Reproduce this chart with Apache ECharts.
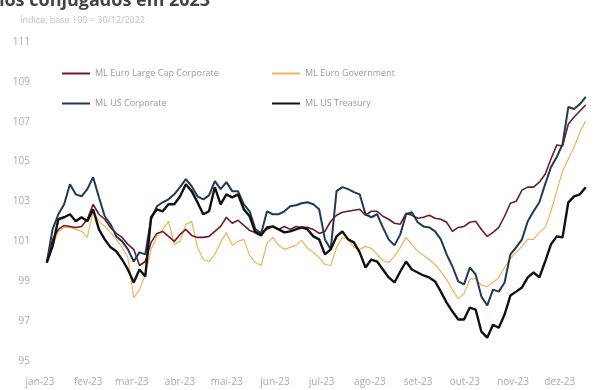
<!DOCTYPE html>
<html>
<head>
<meta charset="utf-8">
<script src="https://cdn.jsdelivr.net/npm/echarts@6/dist/echarts.min.js"></script>
<style>html,body{margin:0;padding:0;background:#fff}#c{width:608px;height:390px}</style>
</head>
<body>
<div id="c"></div>
<script>
// Sampling of the daily series (day of year, from 1 Jan 2023)
const FIRST_DAY = 4.35;
const DAY_STEP = 3.724;

const monthLabels = ['jan-23','fev-23','mar-23','abr-23','mai-23','jun-23','jul-23','ago-23','set-23','out-23','nov-23','dez-23'];
const monthStartDays = [0,31,59,90,120,151,181,212,243,273,304,334];
const yTicks = [95,97,99,101,103,105,107,109,111];

const seriesNames = ['ML Euro Large Cap Corporate','ML Euro Government','ML US Corporate','ML US Treasury'];

const euroCorp = [
 99.94,101.10,101.60,101.80,101.75,101.70,101.75,102.11,102.86,102.36,
 102.11,101.70,101.40,101.20,100.85,100.60,99.79,99.99,100.95,101.40,
 101.50,101.25,101.00,101.35,101.60,101.30,101.20,101.20,101.25,101.50,
 101.75,102.21,101.91,102.06,101.80,101.55,101.45,101.45,101.60,101.75,
 101.60,101.75,101.60,101.75,101.70,101.70,101.60,101.40,101.50,102.01,
 102.31,102.46,102.51,102.56,102.61,102.31,102.51,102.51,102.26,102.11,
 101.91,101.86,102.41,102.31,102.16,102.21,102.31,102.16,102.11,101.96,
 101.50,101.70,101.75,101.96,102.01,101.60,101.25,101.45,101.70,102.26,
 102.91,103.01,103.57,103.72,103.72,103.97,104.37,105.13,105.83,105.78,
 106.89,107.24,107.54,107.84
];
const euroGov = [
 99.94,100.75,101.50,101.70,101.70,101.60,101.50,101.20,102.51,102.01,
 101.75,101.45,101.10,100.70,100.19,98.18,98.58,99.34,100.60,101.25,
 101.60,102.01,100.85,101.00,101.86,102.01,100.70,100.09,99.99,100.35,
 100.95,101.45,100.80,101.00,101.10,100.30,99.94,99.79,100.90,101.20,
 100.80,100.60,100.70,100.80,101.05,100.65,100.45,100.19,99.84,99.79,
 100.70,101.20,101.10,100.70,100.60,100.75,100.65,100.35,100.04,99.94,
 100.25,100.70,101.20,100.85,100.50,100.30,100.09,99.84,99.49,99.09,
 98.58,98.13,98.38,99.09,99.14,98.79,98.74,98.94,99.19,99.69,
 100.14,100.45,100.75,101.10,101.10,101.45,101.70,102.51,103.52,104.52,
 105.13,105.73,106.48,107.04
];
const usCorp = [
 99.94,101.60,102.36,102.86,103.87,103.36,103.26,103.62,104.22,103.21,
 102.26,101.86,101.25,101.00,100.60,99.99,100.45,100.35,102.11,102.76,
 102.96,103.11,103.36,103.72,104.12,103.77,103.26,103.11,103.31,104.02,
 103.62,103.97,103.52,103.52,102.86,102.51,101.60,101.40,102.51,102.36,
 102.36,102.51,102.76,102.81,102.91,102.96,102.86,102.61,101.10,100.60,
 103.52,103.72,103.62,103.47,103.36,102.36,102.21,102.36,101.70,101.10,
 100.80,101.35,102.36,102.46,101.96,101.75,101.70,101.50,101.10,100.35,
 99.74,98.99,98.84,99.69,99.34,98.23,97.78,98.58,98.48,98.94,
 100.35,100.70,101.10,102.01,102.51,102.96,103.87,104.72,105.23,105.88,
 107.74,107.64,107.89,108.25
];
const usTreasury = [
 99.94,100.75,102.11,102.21,102.36,102.01,102.21,102.01,102.61,101.60,
 101.10,100.70,100.50,100.09,99.59,98.94,99.59,99.24,102.21,102.61,
 102.51,102.86,102.86,103.26,103.87,103.52,102.96,102.36,102.51,103.72,
 102.86,103.36,103.21,103.36,102.61,102.26,101.45,101.30,101.70,101.75,
 101.60,101.45,101.50,101.60,101.70,101.60,101.25,101.10,100.35,100.60,
 101.25,101.50,101.10,100.95,100.45,99.69,100.09,99.99,99.59,99.19,
 98.94,99.49,99.99,99.59,99.44,99.29,99.19,98.99,98.48,97.93,
 97.48,97.08,97.08,97.68,97.58,96.47,96.17,96.82,96.67,97.33,
 98.28,98.48,98.69,99.19,99.44,99.19,99.99,100.85,101.25,101.20,
 102.96,103.26,103.36,103.72
];

const sampleDays = euroCorp.map((_, i) => FIRST_DAY + i * DAY_STEP);
const pair = arr => arr.map((v, i) => [sampleDays[i], v]);

const chart = echarts.init(document.getElementById('c'), null, {renderer: 'canvas'});
const legendText = {fontSize: 9, color: '#9a9a9a', fontFamily: 'Open Sans'};
const mkLegend = (name, left, top) => ({
  data: [name], left, top, icon: 'rect', itemWidth: 28, itemHeight: 2, itemGap: 6,
  padding: 0, textStyle: legendText, selectedMode: false
});

chart.setOption({
  animation: false,
  backgroundColor: '#fff',
  title: [
    {text: 'Retornos conjugados em 2023', left: -62, top: -13,
     textStyle: {fontSize: 18, fontWeight: 'bold', color: '#444', fontFamily: 'Open Sans'}},
    {text: 'Índice, base 100 = 30/12/2022', left: 15, top: 11,
     textStyle: {fontSize: 9, fontWeight: 'normal', color: '#c0c0c0', fontFamily: 'Open Sans'}}
  ],
  legend: [
    mkLegend(seriesNames[0], 62, 69),
    mkLegend(seriesNames[1], 272, 69),
    mkLegend(seriesNames[2], 62, 99),
    mkLegend(seriesNames[3], 272, 99)
  ],
  grid: {left: 40, top: 42, width: 588, height: 319},
  xAxis: {
    type: 'value', min: 0, max: 365,
    axisLine: {show: false}, axisTick: {show: false}, splitLine: {show: false},
    axisLabel: {
      customValues: monthStartDays,
      formatter: v => monthLabels[monthStartDays.indexOf(v)] || '',
      color: '#aaa', fontSize: 10, margin: 16, fontFamily: 'Open Sans'
    }
  },
  yAxis: {
    type: 'value', min: 95, max: 111, interval: 2,
    axisLine: {show: false}, axisTick: {show: false}, splitLine: {show: false},
    axisLabel: {color: '#aaa', fontSize: 10, margin: 10, fontFamily: 'Open Sans',
      formatter: v => yTicks.includes(v) ? String(v) : ''}
  },
  series: [
    {name: seriesNames[1], type: 'line', data: pair(euroGov), symbol: 'none', z: 1,
     lineStyle: {color: '#f1b25a', width: 1.2}, itemStyle: {color: '#f1b25a'}},
    {name: seriesNames[0], type: 'line', data: pair(euroCorp), symbol: 'none', z: 2,
     lineStyle: {color: '#6e1c24', width: 1.6}, itemStyle: {color: '#6e1c24'}},
    {name: seriesNames[2], type: 'line', data: pair(usCorp), symbol: 'none', z: 3,
     lineStyle: {color: '#1e3a55', width: 2}, itemStyle: {color: '#1e3a55'}},
    {name: seriesNames[3], type: 'line', data: pair(usTreasury), symbol: 'none', z: 4,
     lineStyle: {color: '#111111', width: 2.4}, itemStyle: {color: '#111111'}}
  ]
});
</script>
</body>
</html>
